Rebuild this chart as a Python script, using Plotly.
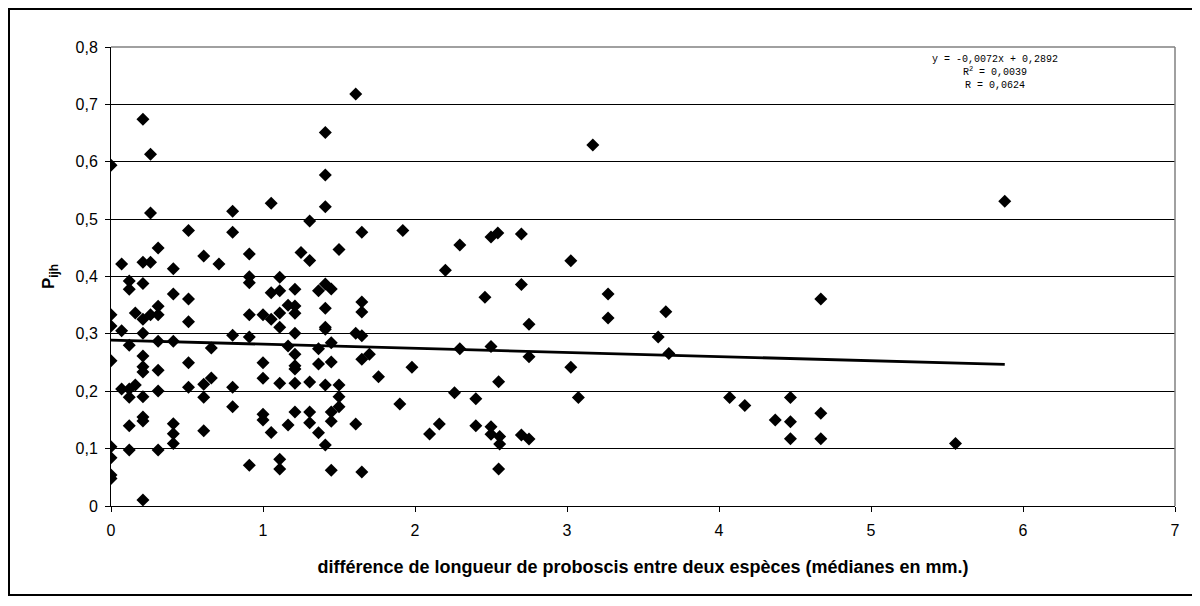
import numpy as np
import plotly.graph_objects as go

# Data
x_vals = [
    0, 0, 0, 0, 0, 0, 0, 0,
    0.07, 0.07, 0.07,
    0.12, 0.12, 0.12, 0.12, 0.12, 0.12, 0.12,
    0.16, 0.16,
    0.21, 0.21, 0.21, 0.21, 0.21, 0.21, 0.21, 0.21, 0.21, 0.21, 0.21, 0.21,
    0.26, 0.26, 0.26, 0.26,
    0.31, 0.31, 0.31, 0.31, 0.31, 0.31, 0.31,
    0.41, 0.41, 0.41, 0.41, 0.41, 0.41,
    0.51, 0.51, 0.51, 0.51, 0.51,
    0.61, 0.61, 0.61, 0.61,
    0.66, 0.66,
    0.71,
    0.80, 0.80, 0.80, 0.80, 0.80,
    0.91, 0.91, 0.91, 0.91, 0.91, 0.91,
    1.00, 1.00, 1.00, 1.00, 1.00,
    1.054, 1.054, 1.054, 1.054,
    1.11, 1.11, 1.11, 1.11, 1.11, 1.11, 1.11,
    1.165, 1.165, 1.165,
    1.21, 1.21, 1.21, 1.21, 1.21, 1.21, 1.21, 1.21, 1.21,
    1.25,
    1.307, 1.307, 1.307, 1.307, 1.307,
    1.365, 1.365, 1.365, 1.365,
    1.41, 1.41, 1.41, 1.41, 1.41, 1.41, 1.41, 1.41, 1.41,
    1.449, 1.449, 1.449, 1.449, 1.449, 1.449,
    1.50, 1.50, 1.50, 1.50,
    1.61, 1.61, 1.61,
    1.65, 1.65, 1.65, 1.65, 1.65, 1.65,
    1.70, 1.76, 1.90, 1.92, 1.98,
    2.096, 2.16, 2.20, 2.26, 2.295, 2.295,
    2.40, 2.40, 2.46,
    2.50, 2.50, 2.50, 2.50, 2.545,
    2.55, 2.55, 2.557, 2.557,
    2.70, 2.70, 2.70,
    2.75, 2.75, 2.75,
    3.025, 3.025, 3.075, 3.17, 3.27, 3.27,
    3.60, 3.65, 3.67,
    4.07, 4.17, 4.37,
    4.47, 4.47, 4.47,
    4.67, 4.67, 4.67,
    5.556, 5.88,
]
y_vals = [
    0.594, 0.3335, 0.3137, 0.2533, 0.1034, 0.0842, 0.054, 0.048,
    0.422, 0.3056, 0.204,
    0.392, 0.3777, 0.28, 0.204, 0.1895, 0.14, 0.0976,
    0.3364, 0.211,
    0.674, 0.425, 0.388, 0.3254, 0.301, 0.2614, 0.2428, 0.2335, 0.1905, 0.155, 0.148, 0.0105,
    0.613, 0.5107, 0.425, 0.3335,
    0.4497, 0.348, 0.3335, 0.287, 0.2365, 0.2004, 0.0976,
    0.4136, 0.3695, 0.287, 0.1435, 0.126, 0.109,
    0.48, 0.3608, 0.3213, 0.2498, 0.2068,
    0.4357, 0.212, 0.1895, 0.131,
    0.2754, 0.2231,
    0.422,
    0.5136, 0.477, 0.2975, 0.2068, 0.173,
    0.4392, 0.3997, 0.389, 0.3335, 0.2945, 0.0709,
    0.3335, 0.2498, 0.2225, 0.16, 0.150,
    0.5276, 0.3718, 0.3254, 0.128,
    0.3985, 0.3753, 0.3364, 0.3114, 0.2138, 0.0814, 0.0645,
    0.35, 0.279, 0.141,
    0.3777, 0.3486, 0.336, 0.301, 0.2644, 0.2446, 0.2388, 0.2138, 0.1638,
    0.442,
    0.4967, 0.428, 0.216, 0.1638, 0.1452,
    0.375, 0.274, 0.2475, 0.1278,
    0.651, 0.577, 0.5217, 0.387, 0.3445, 0.3114, 0.308, 0.211, 0.1063,
    0.378, 0.2847, 0.251, 0.1638, 0.1476, 0.0622,
    0.447, 0.211, 0.1905, 0.173,
    0.718, 0.301, 0.1429,
    0.477, 0.3556, 0.338, 0.2968, 0.2557, 0.0593,
    0.2644, 0.2254, 0.1778, 0.48, 0.2417,
    0.1255, 0.1429, 0.411, 0.1975, 0.455, 0.274,
    0.187, 0.140, 0.364,
    0.469, 0.278, 0.138, 0.125, 0.476,
    0.2167, 0.0645, 0.121, 0.108,
    0.474, 0.386, 0.1237,
    0.3167, 0.260, 0.1168,
    0.4275, 0.2417, 0.189, 0.629, 0.3695, 0.3277,
    0.2946, 0.3386, 0.266,
    0.189, 0.175, 0.150,
    0.189, 0.147, 0.117,
    0.361, 0.1615, 0.117,
    0.109, 0.531,
]

# Linear trend shown on the chart
slope = -0.0072
intercept = 0.2892
trend_x = [0, 5.88]

x_ticks = [0, 1, 2, 3, 4, 5, 6, 7]
y_ticks = [0, 0.1, 0.2, 0.3, 0.4, 0.5, 0.6, 0.7, 0.8]
y_ticktext = ["0", "0,1", "0,2", "0,3", "0,4", "0,5", "0,6", "0,7", "0,8"]

x_title = "différence de longueur de proboscis entre deux espèces (médianes en mm.)"
y_title = "<b>P<sub>ijh</sub></b>"
eq_text = "y = -0,0072x + 0,2892<br>R<sup>2</sup> = 0,0039<br>R = 0,0624"

fig = go.Figure()
fig.add_trace(go.Scatter(
    x=x_vals, y=y_vals, mode="markers",
    marker=dict(symbol="diamond", size=10, color="black"),
    showlegend=False, hoverinfo="x+y",
))
tx = np.array(trend_x, dtype=float)
fig.add_trace(go.Scatter(
    x=tx, y=slope * tx + intercept, mode="lines",
    line=dict(color="black", width=2.8), showlegend=False,
))

# figure geometry (page has an 8px body margin)
W, H = 1192, 598
L, R, T, B = 103, 25, 39, 100
pw, ph = W - L - R, H - T - B

def px_x(p):
    return (p - L) / pw

def px_y(p):
    return (H - B - p) / ph

fig.update_layout(
    width=W, height=H,
    margin=dict(l=L, r=R, t=T, b=B),
    paper_bgcolor="white", plot_bgcolor="white",
    font=dict(family="Liberation Sans, Arial, sans-serif", size=16, color="black"),
    xaxis=dict(
        range=[0, 7], tickvals=x_ticks, showgrid=False, zeroline=False,
        showline=True, linecolor="black", linewidth=1,
        ticks="outside", ticklen=5, tickcolor="black",
        tickfont=dict(size=16), ticklabelstandoff=5,
        title=dict(text="<b>" + x_title + "</b>", font=dict(size=18), standoff=22),
    ),
    yaxis=dict(
        range=[0, 0.8], tickvals=y_ticks, ticktext=y_ticktext,
        showgrid=True, gridcolor="black", gridwidth=1, zeroline=False,
        showline=True, linecolor="black", linewidth=1,
        ticks="outside", ticklen=5, tickcolor="black",
        tickfont=dict(size=16), ticklabelstandoff=4,
        title=dict(text=y_title, font=dict(size=17), standoff=16),
    ),
    shapes=[
        # gray plot-area border on top and right
        dict(type="line", xref="paper", yref="paper", x0=0, x1=1, y0=1, y1=1,
             line=dict(color="#808080", width=1.5)),
        dict(type="line", xref="paper", yref="paper", x0=1, x1=1, y0=0, y1=1,
             line=dict(color="#808080", width=1.5)),
        # outer chart frame
        dict(type="rect", xref="paper", yref="paper",
             x0=px_x(1), x1=px_x(1187), y0=px_y(587), y1=px_y(1),
             line=dict(color="black", width=2), fillcolor="rgba(0,0,0,0)"),
    ],
    annotations=[
        dict(text=eq_text, xref="paper", yref="paper", x=px_x(987), y=px_y(44),
             xanchor="center", yanchor="top", showarrow=False, align="center",
             font=dict(family="Liberation Mono, Courier New, monospace", size=10)),
    ],
)

fig.write_html("out.html")
